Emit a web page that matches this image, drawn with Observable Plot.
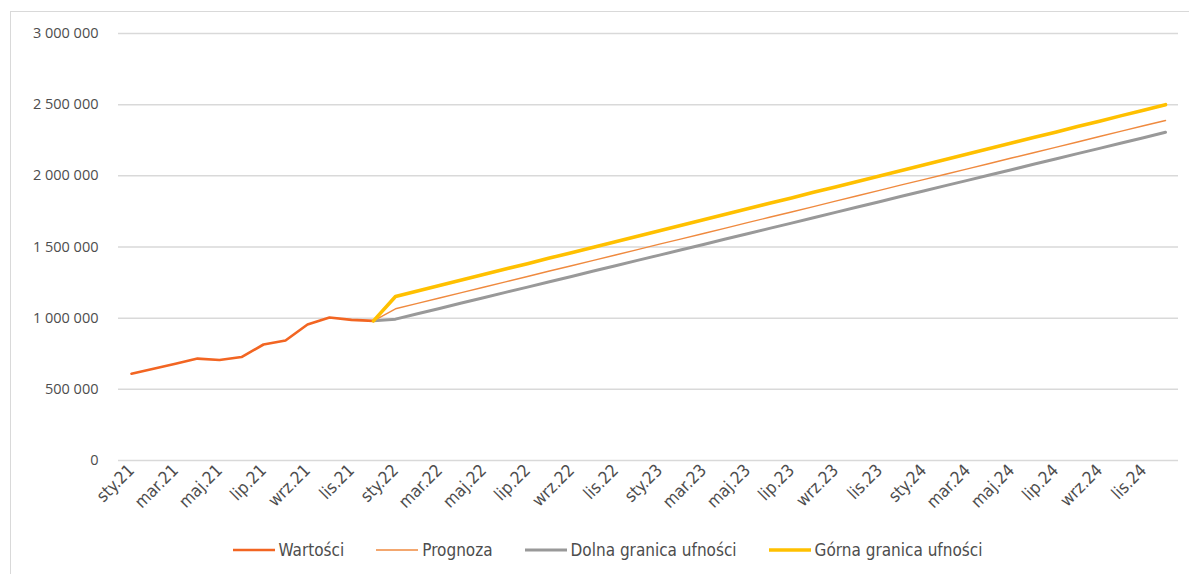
<!DOCTYPE html>
<html><head><meta charset="utf-8">
<script src="https://cdn.jsdelivr.net/npm/d3@7"></script>
<script src="https://cdn.jsdelivr.net/npm/@observablehq/plot@0.6"></script>
<style>
body{margin:0;background:#fff;}
#wrap{position:relative;width:1189px;height:574px;overflow:hidden;background:#fff;}
#frame{position:absolute;left:10px;top:11px;width:1200px;height:600px;border-top:1px solid #d9d9d9;border-left:1px solid #d9d9d9;}
#chart{position:absolute;left:0;top:0;}
#legend{position:absolute;top:540px;left:0;width:1189px;box-sizing:border-box;padding-left:26px;display:flex;justify-content:center;gap:32px;font-family:"DejaVu Sans Condensed","DejaVu Sans",sans-serif;font-size:17px;color:#4d4d4d;}
.item{display:flex;align-items:center;gap:4px;}
</style></head>
<body><div id="wrap"><div id="frame"></div><div id="chart"></div><div id="legend"></div></div>
<script>
const months = ["sty.21","lut.21","mar.21","kwi.21","maj.21","cze.21","lip.21","sie.21","wrz.21","paź.21","lis.21","gru.21",
"sty.22","lut.22","mar.22","kwi.22","maj.22","cze.22","lip.22","sie.22","wrz.22","paź.22","lis.22","gru.22",
"sty.23","lut.23","mar.23","kwi.23","maj.23","cze.23","lip.23","sie.23","wrz.23","paź.23","lis.23","gru.23",
"sty.24","lut.24","mar.24","kwi.24","maj.24","cze.24","lip.24","sie.24","wrz.24","paź.24","lis.24","gru.24"];
const tickLabels = ["sty.21","mar.21","maj.21","lip.21","wrz.21","lis.21","sty.22","mar.22","maj.22","lip.22","wrz.22","lis.22",
"sty.23","mar.23","maj.23","lip.23","wrz.23","lis.23","sty.24","mar.24","maj.24","lip.24","wrz.24","lis.24"];
const yTicks = [0, 500000, 1000000, 1500000, 2000000, 2500000, 3000000];
// Wartości: sty.21 .. gru.21
const wartosci = [610000, 645000, 680000, 716000, 706000, 727000, 815000, 843000, 955000, 1005000, 988000, 981000];
// forecast series: gru.21 .. gru.24
const prognoza = [981000, 1066000, 1104000, 1142000, 1179000, 1217000, 1255000, 1293000, 1331000, 1368000, 1406000, 1444000, 1482000,
1520000, 1557000, 1595000, 1633000, 1671000, 1709000, 1746000, 1784000, 1822000, 1860000, 1898000, 1936000,
1973000, 2011000, 2049000, 2087000, 2125000, 2162000, 2200000, 2238000, 2276000, 2314000, 2352000, 2389000];
const dolna = [981000, 993000, 1031000, 1068000, 1106000, 1143000, 1181000, 1218000, 1256000, 1293000, 1331000, 1368000, 1406000,
1443000, 1481000, 1518000, 1556000, 1593000, 1631000, 1668000, 1706000, 1743000, 1781000, 1818000, 1856000,
1893000, 1931000, 1968000, 2006000, 2043000, 2081000, 2118000, 2156000, 2193000, 2231000, 2268000, 2306000];
const gorna = [981000, 1152000, 1191000, 1229000, 1268000, 1306000, 1345000, 1383000, 1422000, 1460000, 1499000, 1537000, 1576000,
1614000, 1653000, 1691000, 1730000, 1768000, 1807000, 1845000, 1884000, 1922000, 1961000, 1999000, 2038000,
2076000, 2115000, 2153000, 2192000, 2230000, 2269000, 2307000, 2346000, 2384000, 2423000, 2461000, 2500000];
const seriesNames = ["Wartości","Prognoza","Dolna granica ufności","Górna granica ufności"];
const seriesColors = ["#F26522","#EF8A3F","#999999","#FFC000"];
const seriesWidths = [2.6, 1.4, 3, 3.6];

const fc0 = months.indexOf("gru.21");
const histData = wartosci.map((v,i)=>({m:months[i], v}));
const mk = arr => arr.map((v,i)=>({m:months[fc0+i], v}));
const loc = d3.formatLocale({decimal:",", thousands:" ", grouping:[3], currency:["",""]});
const fmt = loc.format(",d");

const chart = Plot.plot({
  width: 1189, height: 520,
  marginLeft: 118, marginRight: 11, marginTop: 33, marginBottom: 60,
  style: {fontFamily: "'Open Sans', sans-serif", background: "transparent"},
  x: {type: "point", domain: months, padding: 0.5, axis: null, label: null},
  y: {domain: [0, 3000000], axis: null, label: null},
  marks: [
    Plot.ruleY(yTicks, {stroke: "#d9d9d9", strokeWidth: 1.5}),
    Plot.text(yTicks, {y: d => d, text: d => fmt(d), frameAnchor: "left", textAnchor: "end", dx: -20, fontSize: 14.5, fill: "#4d4d4d"}),
    Plot.text(tickLabels, {x: d => d, y: 0, text: d => d, textAnchor: "end", lineAnchor: "middle", rotate: -45, dx: 0, dy: 7,
      fontSize: 17, fill: "#4d4d4d", fontFamily: "'DejaVu Sans Condensed','DejaVu Sans',sans-serif"}),
    Plot.line(histData, {x: "m", y: "v", stroke: seriesColors[0], strokeWidth: seriesWidths[0]}),
    Plot.line(mk(prognoza), {x: "m", y: "v", stroke: seriesColors[1], strokeWidth: seriesWidths[1]}),
    Plot.line(mk(dolna), {x: "m", y: "v", stroke: seriesColors[2], strokeWidth: seriesWidths[2]}),
    Plot.line(mk(gorna), {x: "m", y: "v", stroke: seriesColors[3], strokeWidth: seriesWidths[3]})
  ]
});
document.getElementById("chart").appendChild(chart);

const leg = document.getElementById("legend");
seriesNames.forEach((n,i)=>{
  const it = document.createElement("div"); it.className = "item";
  it.innerHTML = `<svg width="42" height="10"><line x1="0" x2="42" y1="5" y2="5" stroke="${seriesColors[i]}" stroke-width="${seriesWidths[i]}"/></svg><span>${n}</span>`;
  leg.appendChild(it);
});
</script></body></html>
